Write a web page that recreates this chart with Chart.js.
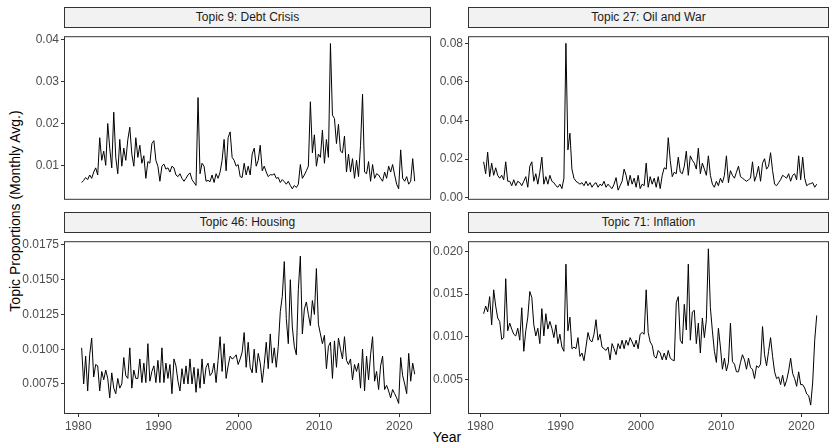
<!DOCTYPE html>
<html>
<head>
<meta charset="utf-8">
<script src="https://cdn.jsdelivr.net/npm/chart.js@4/dist/chart.umd.min.js"></script>
<style>
  html, body { margin: 0; padding: 0; background: #fff; }
  #wrap { position: relative; width: 830px; height: 443px; overflow: hidden;
          font-family: "Liberation Sans", Arial, sans-serif; }
  .strip { position: absolute; box-sizing: border-box; height: 21px; background: #F2F2F2;
           border: 1px solid #333; color: #1a1a1a; font-size: 12px; line-height: 19px;
           text-align: center; white-space: nowrap; }
  canvas { position: absolute; }
  .ytitle { position: absolute; left: 15px; top: 211px; transform: translate(-50%, -50%) rotate(-90deg);
            white-space: nowrap; font-size: 14px; color: #000; }
  .xtitle { position: absolute; left: 447px; top: 437px; transform: translate(-50%, -50%);
            white-space: nowrap; font-size: 14px; color: #000; }
</style>
</head>
<body>
<div id="wrap">
  <div class="ytitle">Topic Proportions (Monthly Avg.)</div>
  <div class="xtitle">Year</div>
</div>
<script>
// Quarterly readings of the monthly topic-proportion averages, mid-1980 to late 2021
const firstPeriod = 1980.42;
const periodStep = 0.25;

const debtCrisis = [
  0.0059, 0.0064, 0.0071, 0.0066, 0.0077, 0.0069, 0.0084, 0.0094, 0.0077, 0.0166,
  0.0112, 0.0134, 0.0100, 0.0200, 0.0141, 0.0094, 0.0227, 0.0119, 0.0080, 0.0162,
  0.0098, 0.0141, 0.0112, 0.0161, 0.0191, 0.0127, 0.0098, 0.0166, 0.0119, 0.0148,
  0.0105, 0.0123, 0.0069, 0.0109, 0.0105, 0.0152, 0.0159, 0.0112, 0.0098, 0.0062,
  0.0098, 0.0103, 0.0091, 0.0094, 0.0084, 0.0098, 0.0094, 0.0077, 0.0073, 0.0080,
  0.0069, 0.0062, 0.0069, 0.0077, 0.0082, 0.0066, 0.0059, 0.0052, 0.0262, 0.0080,
  0.0105, 0.0098, 0.0062, 0.0064, 0.0061, 0.0077, 0.0059, 0.0080, 0.0069, 0.0084,
  0.0112, 0.0162, 0.0087, 0.0166, 0.0180, 0.0119, 0.0112, 0.0098, 0.0102, 0.0073,
  0.0071, 0.0105, 0.0077, 0.0098, 0.0077, 0.0127, 0.0141, 0.0098, 0.0112, 0.0148,
  0.0087, 0.0098, 0.0084, 0.0073, 0.0078, 0.0077, 0.0080, 0.0069, 0.0071, 0.0059,
  0.0066, 0.0061, 0.0055, 0.0062, 0.0052, 0.0044, 0.0052, 0.0047, 0.0055, 0.0102,
  0.0069, 0.0077, 0.0087, 0.0098, 0.0252, 0.0130, 0.0173, 0.0098, 0.0127, 0.0119,
  0.0184, 0.0105, 0.0162, 0.0119, 0.0391, 0.0220, 0.0212, 0.0152, 0.0198, 0.0134,
  0.0130, 0.0170, 0.0084, 0.0127, 0.0084, 0.0116, 0.0069, 0.0112, 0.0073, 0.0148,
  0.0270, 0.0084, 0.0080, 0.0109, 0.0062, 0.0102, 0.0069, 0.0080, 0.0077, 0.0069,
  0.0062, 0.0084, 0.0069, 0.0098, 0.0084, 0.0102, 0.0077, 0.0055, 0.0044, 0.0137,
  0.0069, 0.0062, 0.0073, 0.0055, 0.0062, 0.0116, 0.0062
];

const oilAndWar = [
  0.0186, 0.0124, 0.0236, 0.0109, 0.0179, 0.0116, 0.0155, 0.0116, 0.0101, 0.0116,
  0.0093, 0.0186, 0.0085, 0.0085, 0.0062, 0.0093, 0.0062, 0.0085, 0.0078, 0.0062,
  0.0085, 0.0109, 0.0054, 0.0163, 0.0186, 0.0085, 0.0124, 0.0070, 0.0132, 0.0210,
  0.0070, 0.0109, 0.0070, 0.0116, 0.0085, 0.0078, 0.0062, 0.0054, 0.0070, 0.0047,
  0.0101, 0.0800, 0.0248, 0.0334, 0.0148, 0.0101, 0.0085, 0.0078, 0.0070, 0.0078,
  0.0062, 0.0085, 0.0062, 0.0078, 0.0054, 0.0070, 0.0078, 0.0054, 0.0070, 0.0062,
  0.0085, 0.0054, 0.0070, 0.0057, 0.0047, 0.0070, 0.0104, 0.0039, 0.0062, 0.0085,
  0.0148, 0.0116, 0.0062, 0.0116, 0.0070, 0.0101, 0.0054, 0.0116, 0.0047, 0.0070,
  0.0062, 0.0179, 0.0054, 0.0109, 0.0070, 0.0101, 0.0054, 0.0109, 0.0047, 0.0116,
  0.0155, 0.0148, 0.0311, 0.0194, 0.0109, 0.0132, 0.0124, 0.0210, 0.0132, 0.0124,
  0.0163, 0.0241, 0.0116, 0.0217, 0.0194, 0.0179, 0.0148, 0.0256, 0.0124, 0.0179,
  0.0148, 0.0116, 0.0217, 0.0116, 0.0070, 0.0054, 0.0085, 0.0062, 0.0101, 0.0078,
  0.0116, 0.0217, 0.0078, 0.0140, 0.0116, 0.0101, 0.0132, 0.0163, 0.0109, 0.0101,
  0.0093, 0.0085, 0.0093, 0.0101, 0.0186, 0.0085, 0.0116, 0.0163, 0.0085, 0.0179,
  0.0202, 0.0148, 0.0163, 0.0233, 0.0140, 0.0070, 0.0062, 0.0078, 0.0093, 0.0116,
  0.0109, 0.0101, 0.0124, 0.0085, 0.0116, 0.0124, 0.0093, 0.0217, 0.0093, 0.0210,
  0.0101, 0.0062, 0.0070, 0.0073, 0.0078, 0.0054, 0.0070
];

const housing = [
  0.0101, 0.0075, 0.0095, 0.0070, 0.0096, 0.0108, 0.0080, 0.0089, 0.0088, 0.0070,
  0.0084, 0.0078, 0.0085, 0.0079, 0.0065, 0.0083, 0.0072, 0.0068, 0.0079, 0.0072,
  0.0075, 0.0094, 0.0081, 0.0079, 0.0101, 0.0072, 0.0085, 0.0079, 0.0079, 0.0093,
  0.0076, 0.0090, 0.0076, 0.0104, 0.0077, 0.0084, 0.0088, 0.0076, 0.0092, 0.0076,
  0.0101, 0.0076, 0.0090, 0.0079, 0.0089, 0.0068, 0.0093, 0.0088, 0.0077, 0.0070,
  0.0086, 0.0075, 0.0088, 0.0075, 0.0093, 0.0075, 0.0087, 0.0069, 0.0086, 0.0072,
  0.0093, 0.0075, 0.0087, 0.0090, 0.0081, 0.0083, 0.0090, 0.0076, 0.0092, 0.0109,
  0.0084, 0.0104, 0.0079, 0.0088, 0.0095, 0.0093, 0.0094, 0.0096, 0.0089, 0.0093,
  0.0098, 0.0112, 0.0087, 0.0105, 0.0087, 0.0083, 0.0100, 0.0083, 0.0097, 0.0090,
  0.0076, 0.0089, 0.0105, 0.0086, 0.0111, 0.0090, 0.0101, 0.0087, 0.0102, 0.0127,
  0.0138, 0.0163, 0.0122, 0.0104, 0.0150, 0.0116, 0.0102, 0.0096, 0.0143, 0.0167,
  0.0111, 0.0129, 0.0134, 0.0125, 0.0117, 0.0135, 0.0125, 0.0158, 0.0118, 0.0111,
  0.0104, 0.0110, 0.0086, 0.0102, 0.0105, 0.0079, 0.0106, 0.0087, 0.0108, 0.0100,
  0.0093, 0.0109, 0.0092, 0.0089, 0.0093, 0.0078, 0.0089, 0.0084, 0.0090, 0.0072,
  0.0100, 0.0070, 0.0095, 0.0078, 0.0096, 0.0109, 0.0077, 0.0084, 0.0071, 0.0088,
  0.0095, 0.0071, 0.0074, 0.0070, 0.0065, 0.0071, 0.0068, 0.0065, 0.0061, 0.0094,
  0.0081, 0.0075, 0.0068, 0.0097, 0.0077, 0.0090, 0.0082
];

const inflation = [
  0.0127, 0.0136, 0.0129, 0.0147, 0.0114, 0.0155, 0.0136, 0.0122, 0.0118, 0.0097,
  0.0099, 0.0168, 0.0107, 0.0116, 0.0109, 0.0103, 0.0101, 0.0110, 0.0096, 0.0134,
  0.0083, 0.0107, 0.0123, 0.0153, 0.0146, 0.0114, 0.0101, 0.0110, 0.0092, 0.0133,
  0.0101, 0.0127, 0.0109, 0.0118, 0.0110, 0.0099, 0.0114, 0.0092, 0.0103, 0.0088,
  0.0083, 0.0185, 0.0107, 0.0123, 0.0086, 0.0088, 0.0086, 0.0099, 0.0077, 0.0081,
  0.0072, 0.0088, 0.0105, 0.0096, 0.0094, 0.0103, 0.0120, 0.0096, 0.0103, 0.0088,
  0.0086, 0.0084, 0.0088, 0.0073, 0.0092, 0.0086, 0.0079, 0.0092, 0.0086, 0.0096,
  0.0086, 0.0096, 0.0090, 0.0099, 0.0094, 0.0088, 0.0096, 0.0086, 0.0103, 0.0105,
  0.0103, 0.0155, 0.0105, 0.0094, 0.0090, 0.0077, 0.0075, 0.0084, 0.0081, 0.0073,
  0.0081, 0.0073, 0.0084, 0.0075, 0.0073, 0.0072, 0.0140, 0.0147, 0.0096, 0.0092,
  0.0138, 0.0108, 0.0185, 0.0096, 0.0129, 0.0131, 0.0092, 0.0116, 0.0081, 0.0122,
  0.0099, 0.0120, 0.0203, 0.0134, 0.0107, 0.0083, 0.0070, 0.0110, 0.0088, 0.0062,
  0.0075, 0.0060, 0.0070, 0.0116, 0.0071, 0.0068, 0.0059, 0.0059, 0.0070, 0.0079,
  0.0073, 0.0062, 0.0075, 0.0064, 0.0062, 0.0051, 0.0066, 0.0064, 0.0068, 0.0112,
  0.0079, 0.0066, 0.0083, 0.0099, 0.0077, 0.0059, 0.0051, 0.0053, 0.0044, 0.0055,
  0.0042, 0.0049, 0.0060, 0.0075, 0.0057, 0.0051, 0.0042, 0.0059, 0.0044, 0.0044,
  0.0040, 0.0033, 0.0031, 0.0020, 0.0047, 0.0096, 0.0125
];

// Tick labels
const yearTicks = ['1980', '1990', '2000', '2010', '2020'];
const debtTicks = ['0.01', '0.02', '0.03', '0.04'];
const oilTicks = ['0.00', '0.02', '0.04', '0.06', '0.08'];
const housingTicks = ['0.0075', '0.0100', '0.0125', '0.0150', '0.0175'];
const inflationTicks = ['0.005', '0.010', '0.015', '0.020'];

const periods = debtCrisis.map((_, i) => firstPeriod + i * periodStep);

const FONT = '"Liberation Sans", Arial, sans-serif';
const AXIS_W = 50;
const PLOT_H = 182;
const XAXIS_H = 24;

// facet layout: plot-area edges in page pixels plus axis ranges
const panels = [
  { title: 'Topic 9: Debt Crisis', values: debtCrisis, yTicks: debtTicks,
    left: 64, right: 431, top: 27, showX: false,
    xMin: 1978.22, xMax: 2023.95, yMin: 0.00177, yMax: 0.04086 },
  { title: 'Topic 27: Oil and War', values: oilAndWar, yTicks: oilTicks,
    left: 468, right: 829, top: 27, showX: false,
    xMin: 1978.47, xMax: 2023.45, yMin: -0.0011, yMax: 0.0837 },
  { title: 'Topic 46: Housing', values: housing, yTicks: housingTicks,
    left: 64, right: 431, top: 232, showX: true,
    xMin: 1978.22, xMax: 2023.95, yMin: 0.00534, yMax: 0.01777 },
  { title: 'Topic 71: Inflation', values: inflation, yTicks: inflationTicks,
    left: 468, right: 829, top: 232, showX: true,
    xMin: 1978.47, xMax: 2023.45, yMin: 0.00096, yMax: 0.02119 }
];

// dark box around each plot area, drawn over the line
const panelFrame = {
  id: 'panelFrame',
  afterDatasetsDraw(chart) {
    const a = chart.chartArea;
    const ctx = chart.ctx;
    ctx.save();
    ctx.strokeStyle = '#333333';
    ctx.lineWidth = 1;
    ctx.strokeRect(a.left + 0.5, a.top + 0.5, a.right - a.left - 1, a.bottom - a.top - 1);
    ctx.restore();
  }
};

const wrap = document.getElementById('wrap');

panels.forEach(p => {
  const plotW = p.right - p.left;
  const xH = p.showX ? XAXIS_H : 0;

  const strip = document.createElement('div');
  strip.className = 'strip';
  strip.textContent = p.title;
  strip.style.left = p.left + 'px';
  strip.style.width = plotW + 'px';
  strip.style.top = (p.top - 20) + 'px';
  wrap.appendChild(strip);

  const cv = document.createElement('canvas');
  cv.width = AXIS_W + plotW;
  cv.height = PLOT_H + xH;
  cv.style.left = (p.left - AXIS_W) + 'px';
  cv.style.top = p.top + 'px';
  cv.style.width = cv.width + 'px';
  cv.style.height = cv.height + 'px';
  wrap.appendChild(cv);

  new Chart(cv, {
    type: 'line',
    data: {
      datasets: [{
        data: periods.map((x, i) => ({ x: x, y: p.values[i] })),
        borderColor: '#000000',
        borderWidth: 1,
        pointRadius: 0,
        fill: false,
        tension: 0
      }]
    },
    options: {
      responsive: false,
      animation: false,
      devicePixelRatio: 1,
      layout: { padding: 0, autoPadding: false },
      plugins: { legend: { display: false }, tooltip: { enabled: false } },
      scales: {
        x: {
          type: 'linear',
          min: p.xMin,
          max: p.xMax,
          display: p.showX,
          afterBuildTicks: s => { s.ticks = yearTicks.map(t => ({ value: Number(t) })); },
          afterFit: s => { s.height = xH; },
          border: { display: false },
          grid: { drawOnChartArea: false, drawTicks: true, tickLength: 3, tickColor: '#333333', color: '#333333' },
          ticks: {
            autoSkip: false, maxRotation: 0, padding: 2, color: '#4D4D4D',
            font: { family: FONT, size: 12 },
            callback: (v, i) => yearTicks[i]
          }
        },
        y: {
          min: p.yMin,
          max: p.yMax,
          afterBuildTicks: s => { s.ticks = p.yTicks.map(t => ({ value: Number(t) })); },
          afterFit: s => { s.width = AXIS_W; },
          border: { display: false },
          grid: { drawOnChartArea: false, drawTicks: true, tickLength: 3, tickColor: '#333333', color: '#333333' },
          ticks: {
            autoSkip: false, padding: 2, color: '#4D4D4D',
            font: { family: FONT, size: 12 },
            callback: (v, i) => p.yTicks[i]
          }
        }
      }
    },
    plugins: [panelFrame]
  });
});
</script>
</body>
</html>
